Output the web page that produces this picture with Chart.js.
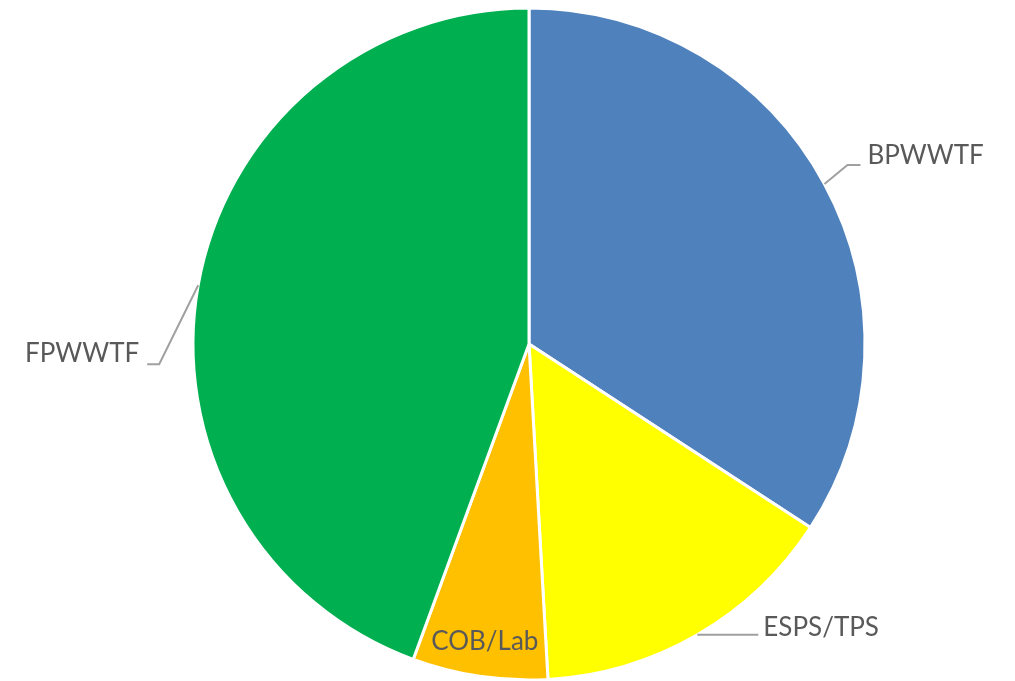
<!DOCTYPE html>
<html>
<head>
<meta charset="utf-8">
<script src="https://cdn.jsdelivr.net/npm/chart.js@4.4.1/dist/chart.umd.min.js"></script>
<style>
  html, body { margin: 0; padding: 0; background: #ffffff; }
  #wrap { width: 1015px; height: 681px; }
</style>
</head>
<body>
<div id="wrap"><canvas id="pie" width="1015" height="681"></canvas></div>
<script>
// Share of the total per facility (percent)
const categories = ['BPWWTF', 'ESPS/TPS', 'COB/Lab', 'FPWWTF'];
const shares = [34.2, 14.9, 6.5, 44.4];
const sliceColors = ['#4F81BD', '#FFFF00', '#FFC000', '#00B050'];

// How each category label is placed: outside with a leader line, or inside the slice
const labelStyles = {
  'BPWWTF':   { mode: 'outside', path: [[23, -19], [36, -19]], align: 'left',  dx: 7,  dy: -9 },
  'ESPS/TPS': { mode: 'outside', path: [[61, 0]],             align: 'left',  dx: 5,  dy: -7 },
  'COB/Lab':  { mode: 'inside',  radiusFactor: 0.895 },
  'FPWWTF':   { mode: 'outside', path: [[-39, 79], [-51, 79]], align: 'right', dx: -8, dy: -11 }
};

const labelFont = '26px Lato, "Open Sans", sans-serif';
const labelColor = '#595959';
const leaderColor = '#A0A0A0';

const sliceLabels = {
  id: 'sliceLabels',
  afterDatasetsDraw(chart) {
    const ctx = chart.ctx;
    const meta = chart.getDatasetMeta(0);
    ctx.save();
    ctx.font = labelFont;
    ctx.fillStyle = labelColor;
    ctx.textBaseline = 'middle';
    meta.data.forEach((arc, i) => {
      const name = chart.data.labels[i];
      const st = labelStyles[name];
      const p = arc.getProps(['x', 'y', 'startAngle', 'endAngle', 'outerRadius'], true);
      const mid = (p.startAngle + p.endAngle) / 2;
      if (st.mode === 'inside') {
        const r = p.outerRadius * st.radiusFactor;
        ctx.textAlign = 'center';
        ctx.fillText(name, p.x + r * Math.cos(mid), p.y + r * Math.sin(mid));
        return;
      }
      const ax = p.x + p.outerRadius * Math.cos(mid);
      const ay = p.y + p.outerRadius * Math.sin(mid);
      ctx.beginPath();
      ctx.moveTo(ax, ay);
      let ex = ax, ey = ay;
      st.path.forEach(([ox, oy]) => { ex = ax + ox; ey = ay + oy; ctx.lineTo(ex, ey); });
      ctx.strokeStyle = leaderColor;
      ctx.lineWidth = 2;
      ctx.stroke();
      ctx.textAlign = st.align;
      ctx.fillText(name, ex + st.dx, ey + st.dy);
    });
    ctx.restore();
  }
};

new Chart(document.getElementById('pie'), {
  type: 'pie',
  data: {
    labels: categories,
    datasets: [{
      data: shares,
      backgroundColor: sliceColors,
      borderColor: '#ffffff',
      borderWidth: 3
    }]
  },
  options: {
    responsive: false,
    animation: false,
    radius: 336,
    layout: { padding: { left: 43, right: 0, top: 7, bottom: 0 } },
    plugins: {
      legend: { display: false },
      tooltip: { enabled: false }
    }
  },
  plugins: [sliceLabels]
});
</script>
</body>
</html>
